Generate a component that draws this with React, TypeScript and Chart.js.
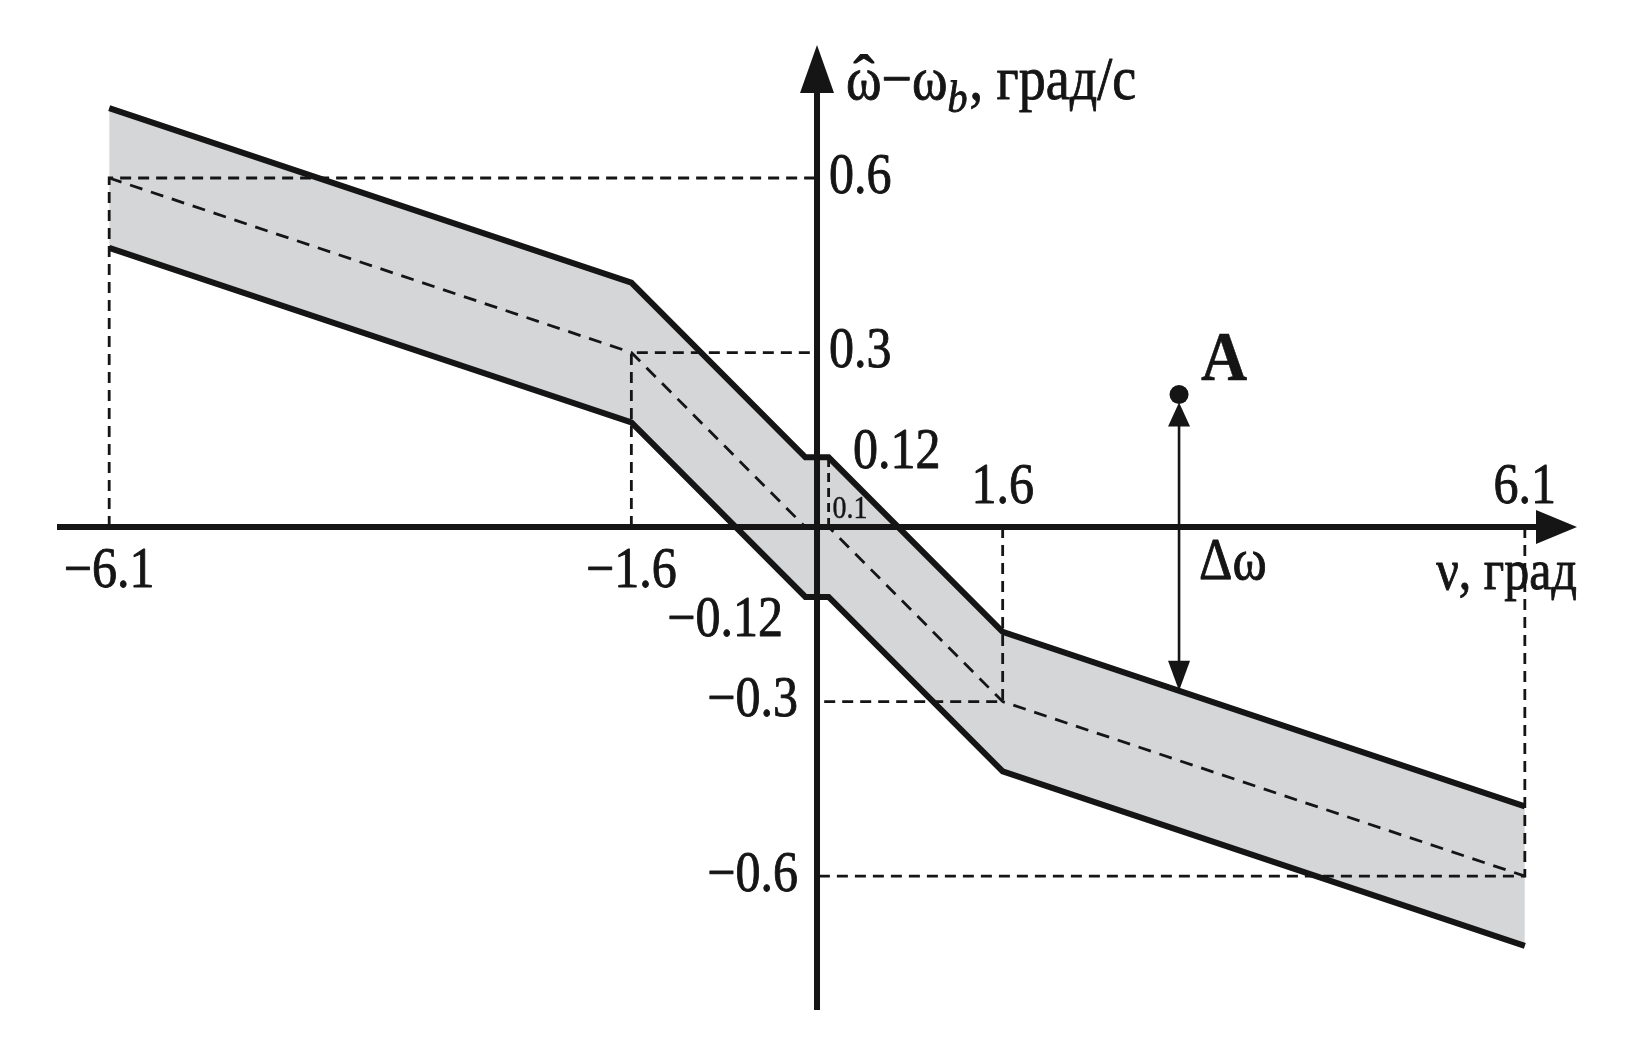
import React, { useEffect, useRef } from 'react';
import { Chart, registerables } from 'chart.js';

Chart.register(...registerables);

// ---- data ----
const nuBreaks = [-6.1, -1.6, -0.1, 0.1, 1.6, 6.1];
const omegaCenter = [0.6, 0.3, 0, 0, -0.3, -0.6];
const omegaUpper = [0.72, 0.42, 0.12, 0.12, -0.18, -0.48];
const omegaLower = [0.48, 0.18, -0.12, -0.12, -0.42, -0.72];
const guideNu = [-6.1, -1.6, 1.6, 6.1];
const guideOmega = [0.6, 0.3, -0.3, -0.6];
const deadZoneNu = 0.1;
const deadZoneOmega = 0.12;
const pointA = { x: 3.12, y: 0.228 };
const xTickValues = [-6.1, -1.6, 1.6, 6.1];
const xTickLabels = ['−6.1', '−1.6', '1.6', '6.1'];
const yTickValues = [0.6, 0.3, -0.3, -0.6];
const yTickLabels = ['0.6', '0.3', '−0.3', '−0.6'];

const SERIF = '"Liberation Serif", "Times New Roman", serif';
const INK = '#151515';
const BAND = '#d5d6d8';

function upperAt(x: number): number {
  for (let i = 0; i < nuBreaks.length - 1; i++) {
    if (x >= nuBreaks[i] && x <= nuBreaks[i + 1]) {
      const t = (x - nuBreaks[i]) / (nuBreaks[i + 1] - nuBreaks[i]);
      return omegaUpper[i] + t * (omegaUpper[i + 1] - omegaUpper[i]);
    }
  }
  return 0;
}

const pts = (ys: number[]) => nuBreaks.map((x, i) => ({ x, y: ys[i] }));

const overlay = {
  id: 'overlay',
  afterDatasetsDraw(chart: any) {
    const ctx: CanvasRenderingContext2D = chart.ctx;
    const xs = chart.scales.x;
    const ys = chart.scales.y;
    const px = (v: number) => xs.getPixelForValue(v);
    const py = (v: number) => ys.getPixelForValue(v);
    const x0 = px(0);
    const y0 = py(0);
    ctx.save();
    ctx.fillStyle = INK;
    ctx.strokeStyle = INK;
    ctx.lineCap = 'butt';

    // axes
    ctx.lineWidth = 6;
    ctx.beginPath();
    ctx.moveTo(57, y0);
    ctx.lineTo(1545, y0);
    ctx.moveTo(x0, 1010);
    ctx.lineTo(x0, 85);
    ctx.stroke();
    ctx.beginPath();
    ctx.moveTo(1577, y0);
    ctx.lineTo(1536, y0 - 17);
    ctx.lineTo(1536, y0 + 17);
    ctx.closePath();
    ctx.fill();
    ctx.beginPath();
    ctx.moveTo(x0, 45);
    ctx.lineTo(x0 - 17, 93);
    ctx.lineTo(x0 + 17, 93);
    ctx.closePath();
    ctx.fill();

    // delta-omega arrow
    const ax = px(pointA.x);
    const aTop = py(pointA.y) + 8;
    const aBot = py(upperAt(pointA.x));
    ctx.lineWidth = 2.6;
    ctx.beginPath();
    ctx.moveTo(ax, aTop + 15);
    ctx.lineTo(ax, aBot - 15);
    ctx.stroke();
    ctx.beginPath();
    ctx.moveTo(ax, aTop);
    ctx.lineTo(ax - 11, aTop + 24);
    ctx.lineTo(ax + 11, aTop + 24);
    ctx.closePath();
    ctx.fill();
    ctx.beginPath();
    ctx.moveTo(ax, aBot);
    ctx.lineTo(ax - 11, aBot - 30);
    ctx.lineTo(ax + 11, aBot - 30);
    ctx.closePath();
    ctx.fill();

    const txt = (s: string, x: number, y: number, align: CanvasTextAlign, font: string, sy = 1.12, sw = 0.8) => {
      ctx.save();
      ctx.font = font;
      ctx.textAlign = align;
      ctx.textBaseline = 'middle';
      ctx.translate(x, y);
      ctx.scale(1, sy);
      ctx.lineWidth = sw;
      ctx.lineJoin = 'round';
      ctx.fillText(s, 0, 0);
      if (sw > 0) ctx.strokeText(s, 0, 0);
      ctx.restore();
    };
    const F = `50px ${SERIF}`;

    xTickValues.forEach((v, i) => {
      if (v < 0) txt(xTickLabels[i], px(v), y0 + 45, 'center', F);
      else txt(xTickLabels[i], px(v), y0 - 39, 'center', F);
    });
    yTickValues.forEach((v, i) => {
      if (v > 0) txt(yTickLabels[i], x0 + 12, py(v), 'left', F);
      else txt(yTickLabels[i], x0 - 19, py(v), 'right', F);
    });
    txt('0.12', x0 + 36, py(deadZoneOmega) - 4, 'left', F);
    txt('−0.12', x0 - 34, py(-deadZoneOmega) + 24, 'right', F);
    txt('0.1', px(deadZoneNu) + 4, y0 - 17, 'left', `28px ${SERIF}`, 1.12, 0.4);
    txt('ν, град', 1577, y0 + 47, 'right', F);
    txt('Δω', ax + 20, y0 + 37, 'left', `52px ${SERIF}`);
    txt('A', ax + 22, py(pointA.y) - 33, 'left', `bold 64px ${SERIF}`, 1.1, 0.5);

    // y-axis title: ω̂ − ω_b, град/с
    let tx = 846;
    const base = 99;
    ctx.save();
    ctx.textAlign = 'left';
    ctx.textBaseline = 'alphabetic';
    ctx.lineJoin = 'round';
    const part = (s: string, font: string, dy = 0) => {
      ctx.font = font;
      const w = ctx.measureText(s).width;
      ctx.save();
      ctx.translate(tx, base + dy);
      ctx.scale(1, 1.12);
      ctx.lineWidth = 0.8;
      ctx.fillText(s, 0, 0);
      ctx.strokeText(s, 0, 0);
      ctx.restore();
      return w;
    };
    ctx.font = `54px ${SERIF}`;
    const wOm = ctx.measureText('ω').width;
    ctx.save();
    ctx.textAlign = 'center';
    ctx.translate(tx + wOm / 2, base - 6);
    ctx.scale(1.15, 1.0);
    ctx.lineWidth = 1.2;
    ctx.fillText('ˆ', 0, 0);
    ctx.strokeText('ˆ', 0, 0);
    ctx.restore();
    tx += part('ω', `54px ${SERIF}`);
    tx += part('−', `54px ${SERIF}`);
    tx += part('ω', `54px ${SERIF}`);
    tx += part('b', `italic 40px ${SERIF}`, 13);
    tx += 2;
    tx += part(', град/с', `54px ${SERIF}`);
    ctx.restore();

    ctx.restore();
  },
};

export default function App() {
  const ref = useRef<HTMLCanvasElement>(null);
  useEffect(() => {
    const lineBase = {
      showLine: true,
      pointRadius: 0,
      borderColor: INK,
      clip: false as any,
      tension: 0,
    };
    const guides = guideNu.map((nu, i) => ({
      ...lineBase,
      data: [
        { x: nu, y: 0 },
        { x: nu, y: guideOmega[i] },
        { x: 0, y: guideOmega[i] },
      ],
      borderWidth: 2.8,
      borderDash: [11, 7],
      fill: false,
    }));
    const chart = new Chart(ref.current!, {
      type: 'scatter',
      data: {
        datasets: [
          {
            ...lineBase,
            label: 'upper',
            data: pts(omegaUpper),
            borderWidth: 6,
            borderJoinStyle: 'miter',
            fill: '+1',
            backgroundColor: BAND,
          },
          {
            ...lineBase,
            label: 'lower',
            data: pts(omegaLower),
            borderWidth: 6,
            borderJoinStyle: 'miter',
            fill: false,
          },
          {
            ...lineBase,
            label: 'center',
            data: pts(omegaCenter),
            borderWidth: 2.8,
            borderDash: [13, 9],
            fill: false,
          },
          ...guides,
          {
            ...lineBase,
            label: 'deadzone',
            data: [
              { x: deadZoneNu, y: 0 },
              { x: deadZoneNu, y: deadZoneOmega },
            ],
            borderWidth: 2.8,
            borderDash: [9, 6],
            fill: false,
          },
          {
            label: 'A',
            data: [pointA],
            showLine: false,
            pointRadius: 9.5,
            pointBackgroundColor: INK,
            pointBorderWidth: 0,
            clip: false as any,
          },
        ] as any,
      },
      options: {
        animation: false,
        responsive: false,
        devicePixelRatio: 1,
        events: [],
        layout: { padding: 0, autoPadding: false } as any,
        plugins: {
          legend: { display: false },
          tooltip: { enabled: false },
          filler: { drawTime: 'beforeDatasetsDraw' } as any,
        },
        scales: {
          x: { type: 'linear', min: -7.041, max: 7.058, display: false },
          y: { type: 'linear', min: -0.892, max: 0.906, display: false },
        },
      },
      plugins: [overlay],
    });
    return () => chart.destroy();
  }, []);
  return (
    <div style={{ position: 'fixed', left: 0, top: 0, width: 1636, height: 1046, background: '#fff' }}>
      <canvas ref={ref} width={1636} height={1046} style={{ width: 1636, height: 1046, display: 'block' }} />
    </div>
  );
}
